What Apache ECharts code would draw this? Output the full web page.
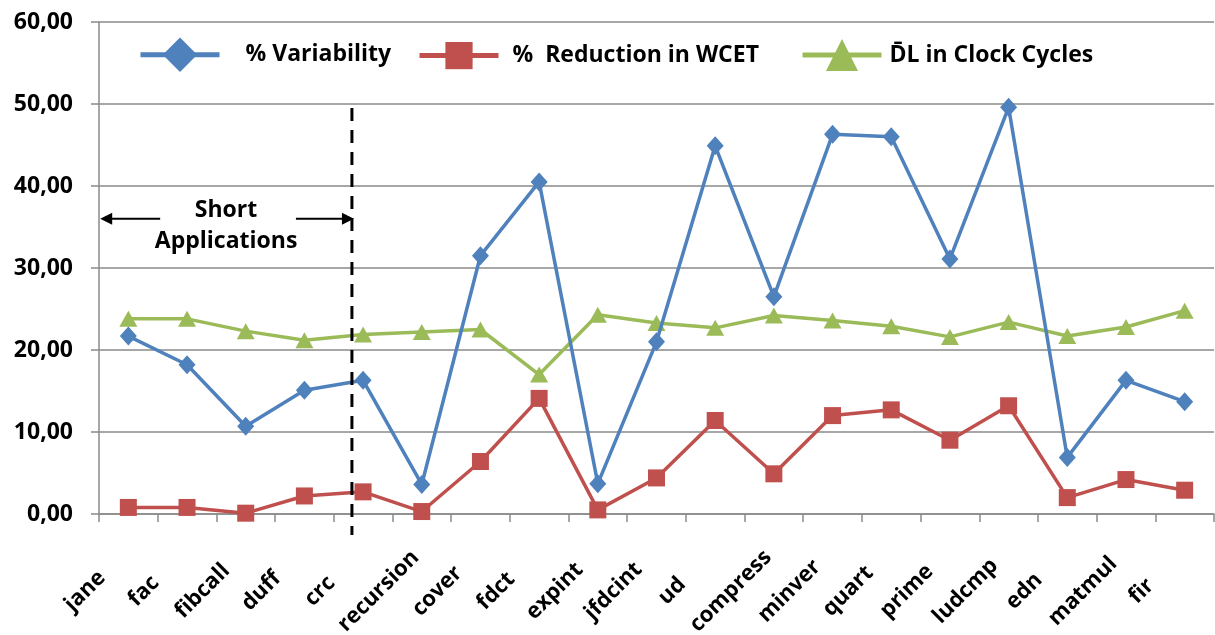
<!DOCTYPE html>
<html>
<head>
<meta charset="utf-8">
<script src="https://cdn.jsdelivr.net/npm/echarts@6/dist/echarts.min.js"></script>
<style>
  html, body { margin: 0; padding: 0; background: #fff; }
  #chart { width: 1215px; height: 635px; }
</style>
</head>
<body>
<div id="chart"></div>
<script>
// Benchmarks, in plotted order
const categories = ['jane', 'fac', 'fibcall', 'duff', 'crc', 'recursion', 'cover', 'fdct', 'expint',
  'jfdcint', 'ud', 'compress', 'minver', 'quart', 'prime', 'ludcmp', 'edn', 'matmul', 'fir'];

// % Variability
const variability = [21.7, 18.2, 10.7, 15.1, 16.3, 3.6, 31.5, 40.5, 3.7,
  21.0, 44.9, 26.5, 46.3, 46.0, 31.1, 49.6, 6.9, 16.3, 13.7];

// % Reduction in WCET
const reduction = [0.8, 0.8, 0.1, 2.2, 2.7, 0.3, 6.4, 14.1, 0.5,
  4.4, 11.4, 4.9, 12.0, 12.7, 9.0, 13.2, 2.0, 4.2, 2.9];

// Mean DL in clock cycles
const dlCycles = [23.8, 23.8, 22.3, 21.2, 21.9, 22.2, 22.5, 17.0, 24.3,
  23.3, 22.7, 24.2, 23.6, 22.9, 21.6, 23.4, 21.7, 22.8, 24.8];

// Value-axis ticks
const yTicks = { min: 0, max: 60, interval: 10 };

const seriesNames = ['% Variability', '%  Reduction in WCET', 'D\u0304L in Clock Cycles'];

const FONT = '"Open Sans", Lato, sans-serif';
const GRID_GRAY = '#8a8a8a';
const BLUE = '#4F81BD', RED = '#C0504D', GREEN = '#9BBB59';

const chart = echarts.init(document.getElementById('chart'), null, { renderer: 'canvas' });

const legendText = { fontFamily: FONT, fontWeight: 'bold', fontSize: 23, color: '#000' };

// One legend block per series so each entry sits where it should
function legendBlock(name, left, iconHeight, textGap) {
  return {
    left: left,
    top: 54 - iconHeight / 2,
    itemWidth: 79,
    itemHeight: iconHeight,
    lineStyle: { width: 5 },
    data: [name],
    textStyle: Object.assign({}, legendText, { padding: [0, 0, 0, textGap] })
  };
}

const option = {
  animation: false,
  backgroundColor: '#ffffff',
  textStyle: { fontFamily: FONT },
  grid: { left: 99, right: 1, top: 22, bottom: 121, containLabel: false, outerBoundsMode: 'none' },
  legend: [
    legendBlock(seriesNames[0], 133, 43, 21),
    legendBlock(seriesNames[1], 412, 34, 9),
    legendBlock(seriesNames[2], 795, 40, 3)
  ],
  xAxis: {
    type: 'category',
    data: categories,
    boundaryGap: true,
    axisLine: { lineStyle: { color: GRID_GRAY, width: 1.5 } },
    axisTick: { show: true, length: 8, interval: 0, lineStyle: { color: GRID_GRAY, width: 1.5 } },
    axisLabel: {
      interval: 0,
      rotate: 45,
      align: 'center',
      verticalAlign: 'middle',
      margin: 34,
      padding: [0, 122, 0, 0],
      fontFamily: FONT,
      fontWeight: 'bold',
      fontSize: 22,
      color: '#000'
    }
  },
  yAxis: {
    type: 'value',
    min: yTicks.min,
    max: yTicks.max,
    interval: yTicks.interval,
    axisLine: { show: true, lineStyle: { color: GRID_GRAY, width: 1.5 } },
    axisTick: { show: true, length: 8, lineStyle: { color: GRID_GRAY, width: 1.5 } },
    splitLine: { lineStyle: { color: GRID_GRAY, width: 1.5 } },
    axisLabel: {
      margin: 26,
      fontFamily: FONT,
      fontWeight: 'bold',
      fontSize: 23,
      color: '#000',
      formatter: v => v.toFixed(2).replace('.', ',')
    }
  },
  series: [
    {
      name: seriesNames[0],
      type: 'line',
      data: variability,
      symbol: 'diamond',
      symbolSize: [17, 19],
      color: BLUE,
      lineStyle: { width: 3.5, color: BLUE },
      itemStyle: { color: BLUE },
      z: 3
    },
    {
      name: seriesNames[1],
      type: 'line',
      data: reduction,
      symbol: 'rect',
      symbolSize: 17,
      color: RED,
      lineStyle: { width: 3.5, color: RED },
      itemStyle: { color: RED },
      z: 4
    },
    {
      name: seriesNames[2],
      type: 'line',
      data: dlCycles,
      symbol: 'triangle',
      symbolSize: [18, 16],
      color: GREEN,
      lineStyle: { width: 3.5, color: GREEN },
      itemStyle: { color: GREEN },
      z: 2
    }
  ]
};

chart.setOption(option);

// Divider between the short applications and the rest, plus its annotation
function drawAnnotations() {
  const px = (cat, v) => chart.convertToPixel({ gridIndex: 0 }, [cat, v]);
  const crc = px('crc', 0);
  const duff = px('duff', 0);
  const jane = px('jane', 0);
  const step = crc[0] - duff[0];
  const xDiv = crc[0] - 0.19 * step;
  const yTop = px('crc', 49.5)[1];
  const yBottom = crc[1] + 21;
  const yArrow = px('crc', 36)[1];
  const xLeft = jane[0] - step * 0.48;
  const xCenter = (xLeft + xDiv) / 2;

  const arrowHead = (tipX, dir) => ({
    type: 'polygon',
    shape: { points: [[tipX, yArrow], [tipX - dir * 12, yArrow - 6], [tipX - dir * 12, yArrow + 6]] },
    style: { fill: '#000' },
    z: 10
  });

  const label = (text, dy) => ({
    type: 'text',
    x: xCenter,
    y: yArrow + dy,
    style: {
      text: text,
      fontFamily: FONT, fontWeight: 'bold', fontSize: 23, fill: '#000',
      align: 'center', verticalAlign: 'middle'
    },
    z: 10
  });

  chart.setOption({
    graphic: [
      {
        type: 'line',
        shape: { x1: xDiv, y1: yTop, x2: xDiv, y2: yBottom },
        style: { stroke: '#000', lineWidth: 3, lineDash: [13, 9] },
        z: 10
      },
      {
        type: 'line',
        shape: { x1: xLeft + 8, y1: yArrow, x2: xLeft + 60, y2: yArrow },
        style: { stroke: '#000', lineWidth: 2 },
        z: 10
      },
      arrowHead(xLeft, -1),
      {
        type: 'line',
        shape: { x1: xDiv - 56, y1: yArrow, x2: xDiv - 8, y2: yArrow },
        style: { stroke: '#000', lineWidth: 2 },
        z: 10
      },
      arrowHead(xDiv + 2, 1),
      label('Short', -8),
      label('Applications', 23)
    ]
  });
}
drawAnnotations();
</script>
</body>
</html>
